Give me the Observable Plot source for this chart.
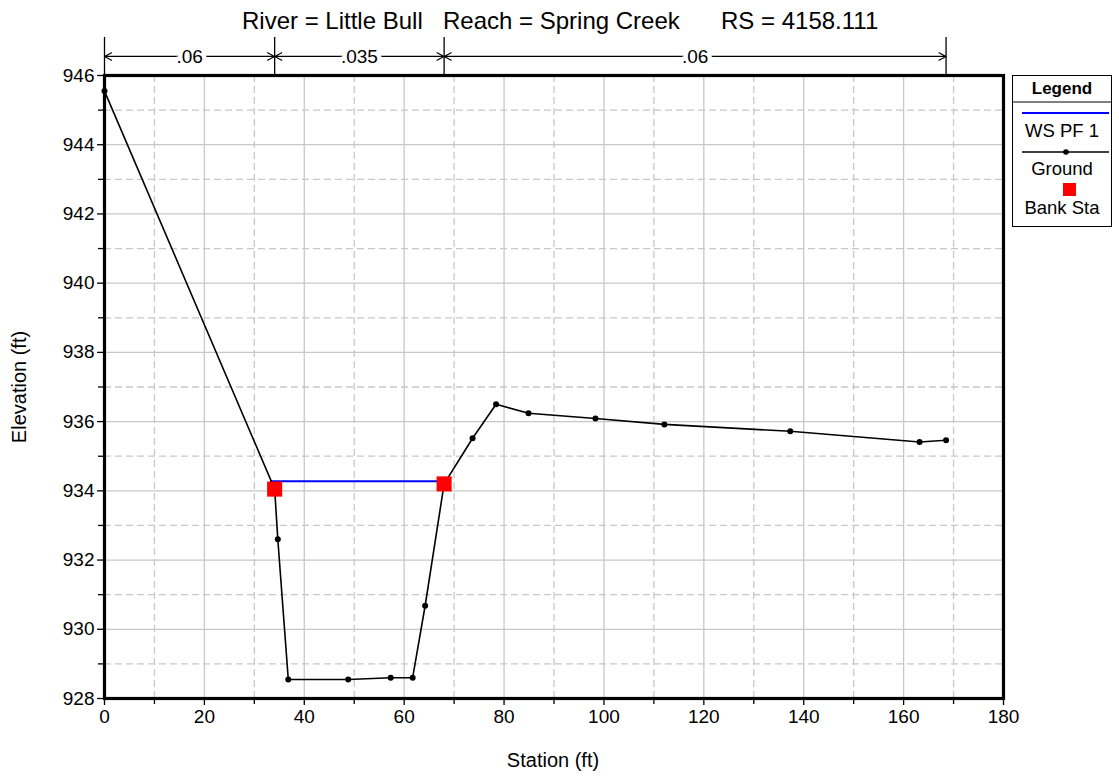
<!DOCTYPE html>
<html><head><meta charset="utf-8">
<script src="https://cdn.jsdelivr.net/npm/d3@7"></script>
<script src="https://cdn.jsdelivr.net/npm/@observablehq/plot@0.6"></script>
<style>
body{margin:0;background:#fff}
svg{font-family:"Liberation Sans",Arial,sans-serif}
</style>
</head><body><div id="chart"></div>
<script>
// Ground profile
const groundStation = [0, 34.07, 34.7, 36.8, 48.8, 57.3, 61.7, 64.2, 68.0, 73.7, 78.4, 84.9, 98.3, 112.1, 137.3, 163.2, 168.5];
const groundElev   = [945.55, 934.05, 932.6, 928.55, 928.55, 928.6, 928.6, 930.68, 934.2, 935.52, 936.5, 936.24, 936.09, 935.92, 935.72, 935.41, 935.46];
// Water surface
const wsStation = [33.3, 68.45];
const wsElev = [934.28, 934.28];
// Bank stations
const bankStation = [34.07, 68.0];
const bankElev = [934.05, 934.2];
// Manning's n zones
const nBounds = [0, 34.07, 68.0, 168.5];
const nLabels = [".06", ".035", ".06"];
// Ticks
const xTicks = [0, 20, 40, 60, 80, 100, 120, 140, 160, 180];
const xMinor = [10, 30, 50, 70, 90, 110, 130, 150, 170];
const yTicks = [928, 930, 932, 934, 936, 938, 940, 942, 944, 946];
const yMinor = [929, 931, 933, 935, 937, 939, 941, 943, 945];
const titleParts = ["River = Little Bull", "Reach = Spring Creek", "RS = 4158.111"];
const legendLabels = ["WS PF 1", "Ground", "Bank Sta"];

const ground = groundStation.map((s, i) => ({s, e: groundElev[i]}));
const ws = wsStation.map((s, i) => ({s, e: wsElev[i]}));
const bank = bankStation.map((s, i) => ({s, e: bankElev[i]}));
const zones = nLabels.map((n, i) => ({a: nBounds[i], b: nBounds[i + 1], c: (nBounds[i] + nBounds[i + 1]) / 2, n}));

const bracketY = 946.55, bracketTop = 947.1;
const gridColor = "#c8c8c8";

const chart = Plot.plot({
  width: 1119, height: 782,
  marginLeft: 104, marginRight: 116, marginTop: 75, marginBottom: 84,
  x: {domain: [0, 180]},
  y: {domain: [928, 946]},
  style: {fontFamily: '"Liberation Sans", Arial, sans-serif', background: "white"},
  marks: [
    Plot.ruleX(xMinor, {stroke: gridColor, strokeWidth: 1.3, strokeDasharray: "7,4"}),
    Plot.ruleY(yMinor, {stroke: gridColor, strokeWidth: 1.3, strokeDasharray: "7,4"}),
    Plot.ruleX(xTicks.slice(1, -1), {stroke: gridColor, strokeWidth: 1.3}),
    Plot.ruleY(yTicks.slice(1, -1), {stroke: gridColor, strokeWidth: 1.3}),
    Plot.axisX({ticks: xTicks, tickSize: 7, tickPadding: 4, fontSize: 19, label: null, stroke: "black", strokeWidth: 1.3, color: "black"}),
    Plot.axisX({ticks: xMinor, tickSize: 6, tickFormat: () => "", label: null, strokeWidth: 1.3}),
    Plot.axisY({ticks: yTicks, tickSize: 7, tickPadding: 3, fontSize: 19, label: null, strokeWidth: 1.3}),
    Plot.axisY({ticks: yMinor, tickSize: 6, tickFormat: () => "", label: null, strokeWidth: 1.3}),
    // n-value brackets
    Plot.ruleX(nBounds, {x: d => d, y1: 946, y2: bracketTop, stroke: "black", strokeWidth: 1.3, clip: false}),
    Plot.arrow(zones, {x1: "c", x2: "a", y1: bracketY, y2: bracketY, bend: 0, headLength: 10, headAngle: 55, strokeWidth: 1.2, stroke: "black", clip: false}),
    Plot.arrow(zones, {x1: "c", x2: "b", y1: bracketY, y2: bracketY, bend: 0, headLength: 10, headAngle: 55, strokeWidth: 1.2, stroke: "black", clip: false}),
    Plot.text(zones, {x: "c", y: bracketY, text: "n", fontSize: 19, fill: "black", stroke: "white", strokeWidth: 9, paintOrder: "stroke", clip: false}),
    // data
    Plot.line(ws, {x: "s", y: "e", stroke: "#0000ff", strokeWidth: 2}),
    Plot.line(ground, {x: "s", y: "e", stroke: "black", strokeWidth: 1.6}),
    Plot.dot(ground, {x: "s", y: "e", r: 3, fill: "black"}),
    Plot.dot(bank, {x: "s", y: "e", symbol: "square", r: 8.5, fill: "#ff0000"}),
    Plot.frame({stroke: "black", strokeWidth: 3.2})
  ]
});

document.getElementById("chart").appendChild(chart);
const svg = d3.select(chart);
const font = '"Liberation Sans", Arial, sans-serif';

// title
const tx = [242, 443, 721];
svg.selectAll("text.title").data(titleParts).join("text")
  .attr("class", "title").attr("x", (d, i) => tx[i]).attr("y", 29).attr("text-anchor", "start")
  .attr("font-size", 24).attr("font-family", font).attr("fill", "black").text(d => d);

// axis titles
svg.append("text").attr("x", 553).attr("y", 767).attr("text-anchor", "middle")
  .attr("font-size", 20).attr("font-family", font).text("Station (ft)");
svg.append("text").attr("transform", "translate(26,387) rotate(-90)").attr("text-anchor", "middle")
  .attr("font-size", 20).attr("font-family", font).text("Elevation (ft)");

// legend
const lg = svg.append("g").attr("font-family", font).attr("font-size", 18.5);
lg.append("rect").attr("x", 1012.5).attr("y", 75.5).attr("width", 99).attr("height", 151)
  .attr("fill", "white").attr("stroke", "black").attr("stroke-width", 1);
lg.append("text").attr("x", 1062).attr("y", 94).attr("text-anchor", "middle").attr("font-weight", "bold").attr("font-size", 17).text("Legend");
lg.append("line").attr("x1", 1012.5).attr("x2", 1111.5).attr("y1", 102).attr("y2", 102).attr("stroke", "black");
lg.append("line").attr("x1", 1022).attr("x2", 1109).attr("y1", 113).attr("y2", 113).attr("stroke", "#0000ff").attr("stroke-width", 2);
lg.append("text").attr("x", 1062).attr("y", 137).attr("text-anchor", "middle").text(legendLabels[0]);
lg.append("line").attr("x1", 1022).attr("x2", 1109).attr("y1", 152).attr("y2", 152).attr("stroke", "black").attr("stroke-width", 1.5);
lg.append("circle").attr("cx", 1066).attr("cy", 152).attr("r", 2.8).attr("fill", "black");
lg.append("text").attr("x", 1062).attr("y", 175).attr("text-anchor", "middle").text(legendLabels[1]);
lg.append("rect").attr("x", 1063).attr("y", 183).attr("width", 13).attr("height", 13).attr("fill", "#ff0000");
lg.append("text").attr("x", 1062).attr("y", 214).attr("text-anchor", "middle").text(legendLabels[2]);
</script>
</body></html>
